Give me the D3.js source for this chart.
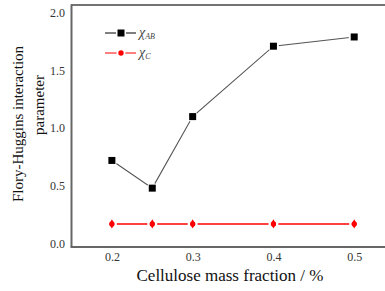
<!DOCTYPE html>
<html><head><meta charset="utf-8">
<script src="https://cdn.jsdelivr.net/npm/d3@7"></script>
<style>body{margin:0;background:#fff}svg{display:block}</style>
</head><body>
<script>
const fractions = [0.2, 0.25, 0.3, 0.4, 0.5];
const chiAB = [0.72, 0.48, 1.10, 1.71, 1.79];
const chiC = [0.17, 0.17, 0.17, 0.17, 0.17];
const xTicks = [0.2, 0.3, 0.4, 0.5];
const yTicks = [0.0, 0.5, 1.0, 1.5, 2.0];

const W = 385, H = 291;
const svg = d3.select("body").append("svg").attr("width", W).attr("height", H);
const x = d3.scaleLinear().domain([0.15, 0.55]).range([71.5, 394.6]);
const y = d3.scaleLinear().domain([-0.03, 2.067]).range([247, 5]);
const serif = "'Liberation Serif','Times New Roman',serif";

// frame
svg.append("line").attr("x1", 71).attr("x2", W).attr("y1", 5).attr("y2", 5)
  .attr("stroke", "#444").attr("stroke-width", 1.5);
svg.append("line").attr("x1", 71.5).attr("x2", 71.5).attr("y1", 4.5).attr("y2", 247)
  .attr("stroke", "#666").attr("stroke-width", 2);
svg.append("line").attr("x1", 70.5).attr("x2", W).attr("y1", 247).attr("y2", 247)
  .attr("stroke", "#666").attr("stroke-width", 2);

// tick labels
const yAxis = d3.axisLeft(y).tickValues(yTicks).tickFormat(d3.format(".1f")).tickSize(0).tickPadding(0);
const gy = svg.append("g").attr("transform", "translate(65,0)").call(yAxis);
gy.select(".domain").remove();
gy.selectAll("text").attr("font-family", serif).attr("font-size", 12).attr("fill", "#333");

const xAxis = d3.axisBottom(x).tickValues(xTicks).tickFormat(d3.format(".1f")).tickSize(0).tickPadding(0);
const gx = svg.append("g").attr("transform", "translate(0,252)").call(xAxis);
gx.select(".domain").remove();
gx.selectAll("text").attr("font-family", serif).attr("font-size", 12).attr("fill", "#333");

// titles
svg.append("text").attr("x", 230).attr("y", 281).attr("text-anchor", "middle")
  .attr("font-family", serif).attr("font-size", 17).attr("fill", "#111")
  .text("Cellulose mass fraction / %");
svg.append("text").attr("transform", "translate(23,124) rotate(-90)").attr("text-anchor", "middle")
  .attr("font-family", serif).attr("font-size", 15).attr("fill", "#111")
  .text("Flory-Huggins interaction");
svg.append("text").attr("transform", "translate(44,105) rotate(-90)").attr("text-anchor", "middle")
  .attr("font-family", serif).attr("font-size", 15).attr("fill", "#111")
  .text("parameter");

const line = d3.line().x((d, i) => x(fractions[i])).y(d => y(d));

// series AB
svg.append("path").datum(chiAB).attr("d", line).attr("fill", "none")
  .attr("stroke", "#555").attr("stroke-width", 1.1);
svg.selectAll(".bgAB").data(chiAB).join("circle")
  .attr("cx", (d, i) => x(fractions[i])).attr("cy", d => y(d)).attr("r", 5.5).attr("fill", "#fff");
svg.selectAll(".mAB").data(chiAB).join("rect")
  .attr("x", (d, i) => x(fractions[i]) - 3.5).attr("y", d => y(d) - 3.5)
  .attr("width", 7).attr("height", 7).attr("fill", "#000");

// series C
svg.append("path").datum(chiC).attr("d", line).attr("fill", "none")
  .attr("stroke", "#f00").attr("stroke-width", 1.5);
svg.selectAll(".bgC").data(chiC).join("circle")
  .attr("cx", (d, i) => x(fractions[i])).attr("cy", d => y(d)).attr("r", 5).attr("fill", "#fff");
svg.selectAll(".mC").data(chiC).join("path")
  .attr("d", d3.symbol().type(d3.symbolCircle).size(22))
  .attr("transform", (d, i) => `translate(${x(fractions[i])},${y(d)})`)
  .attr("fill", "#f00");
svg.selectAll(".mC2").data(chiC).join("path")
  .attr("d", d3.symbol().type(d3.symbolDiamond).size(24))
  .attr("transform", (d, i) => `translate(${x(fractions[i])},${y(d)})`)
  .attr("fill", "#f00");

// legend
const leg = svg.append("g");
leg.append("line").attr("x1", 105).attr("x2", 136).attr("y1", 33).attr("y2", 33).attr("stroke", "#000").attr("stroke-width", 1);
leg.append("rect").attr("x", 117.5).attr("y", 29.5).attr("width", 7).attr("height", 7).attr("fill", "#fff").attr("stroke", "#fff").attr("stroke-width", 3);
leg.append("rect").attr("x", 117.5).attr("y", 29.5).attr("width", 7).attr("height", 7).attr("fill", "#000");
leg.append("line").attr("x1", 105).attr("x2", 136).attr("y1", 53).attr("y2", 53).attr("stroke", "#f00").attr("stroke-width", 1);
leg.append("circle").attr("cx", 121).attr("cy", 53).attr("r", 4.5).attr("fill", "#fff");
leg.append("circle").attr("cx", 121).attr("cy", 53).attr("r", 2.7).attr("fill", "#f00");
const t1 = leg.append("text").attr("x", 139).attr("y", 37).attr("font-family", serif).attr("font-style", "italic").attr("font-size", 14).attr("fill", "#444");
t1.append("tspan").text("χ");
t1.append("tspan").attr("font-size", 8).attr("dy", 2).text("AB");
const t2 = leg.append("text").attr("x", 139).attr("y", 57).attr("font-family", serif).attr("font-style", "italic").attr("font-size", 14).attr("fill", "#444");
t2.append("tspan").text("χ");
t2.append("tspan").attr("font-size", 8).attr("dy", 2).text("C");
</script>
</body></html>
